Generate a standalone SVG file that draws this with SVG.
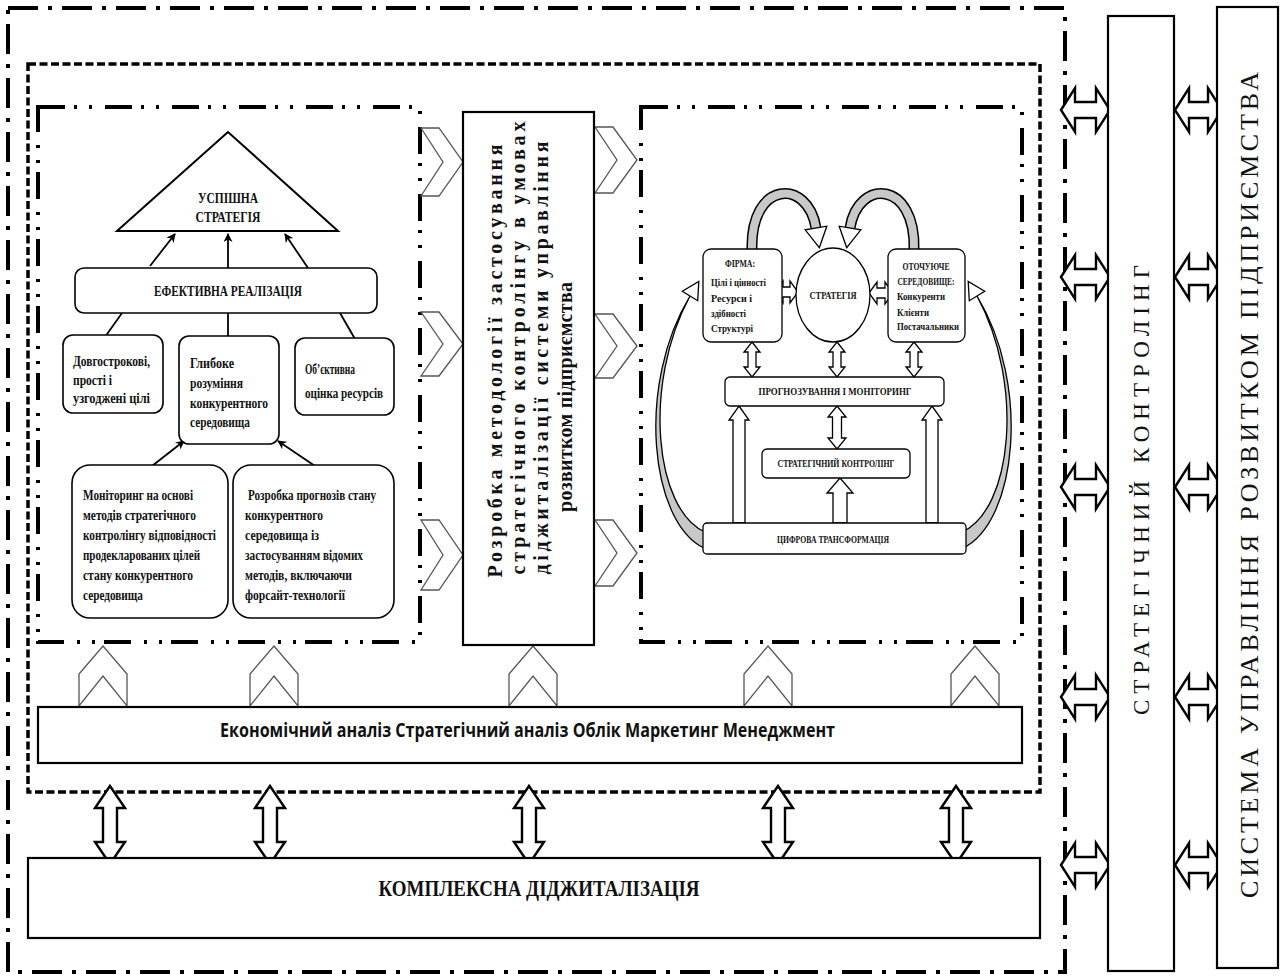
<svg xmlns="http://www.w3.org/2000/svg" width="1282" height="979" viewBox="0 0 1282 979">
<defs>
<style>
.b-outer{fill:none;stroke:#000;stroke-width:4;stroke-dasharray:30 10 4 10}
.b-dash{fill:none;stroke:#000;stroke-width:3.5;stroke-dasharray:8 3.5}
.b-ddot{fill:none;stroke:#000;stroke-width:4;stroke-dasharray:27 9 3 12 3 13}
.box{fill:#fff;stroke:#000;stroke-width:2.2}
.rbox{fill:#fff;stroke:#000;stroke-width:1.6}
.sbox{fill:#fff;stroke:#000;stroke-width:1.3}
.chev{fill:none;stroke:#555;stroke-width:1.3}
.dbl{fill:#fff;stroke:#000;stroke-width:2.4}
.dbls{fill:#fff;stroke:#000;stroke-width:1.3}
.ln{fill:none;stroke:#000;stroke-width:1.8}
.band{fill:none;stroke:#000;stroke-width:11}
.bandin{fill:none;stroke:#c8c8c8;stroke-width:8}
.cres{fill:#c8c8c8;stroke:#000;stroke-width:1.3}
.head{fill:#fff;stroke:#000;stroke-width:1.3}
.tb{font-family:"Liberation Serif","Times New Roman",serif;font-weight:bold;fill:#111}
.t14{font-size:14.5px}
.t10{font-size:10.5px}
.tr{font-family:"Liberation Serif","Times New Roman",serif;fill:#111}
.ts{font-family:"Open Sans","Liberation Sans",Arial,sans-serif;font-weight:bold;fill:#111}
</style>
<marker id="ah" viewBox="0 0 10 10" refX="9" refY="5" markerWidth="5" markerHeight="5" orient="auto"><path d="M0,0 L10,5 L0,10 L3,5 Z" fill="#000"/></marker>
</defs>
<rect width="1282" height="979" fill="#fff"/>

<g id="frame-outer"><rect class="b-outer" x="8" y="8" width="1057" height="964"/></g>
<g id="frame-analytics"><rect class="b-dash" x="28" y="64" width="1012" height="728"/></g>
<g id="panel-left"><rect class="b-ddot" x="38" y="107" width="382" height="535"/></g>
<g id="panel-right"><rect class="b-ddot" x="641" y="107" width="381" height="535"/></g>

<g id="connectors">
  <polygon class="chev" points="421,128 439,128 463,162 439,196 421,196 443,162"/>
  <polygon class="chev" points="421,312 439,312 463,344 439,376 421,376 443,344"/>
  <polygon class="chev" points="421,520 439,520 463,555 439,590 421,590 443,555"/>
  <polygon class="chev" points="595,127 613,127 637,160 613,193 595,193 617,160"/>
  <polygon class="chev" points="595,314 613,314 637,346 613,378 595,378 617,346"/>
  <polygon class="chev" points="595,520 613,520 637,553 613,586 595,586 617,553"/>
  <polygon class="chev" points="79,706 79,674 103,646 127,674 127,706 103,676"/>
  <polygon class="chev" points="250,706 250,674 274,646 298,674 298,706 274,676"/>
  <polygon class="chev" points="509,706 509,674 533,646 557,674 557,706 533,676"/>
  <polygon class="chev" points="744,706 744,674 768,646 792,674 792,706 768,676"/>
  <polygon class="chev" points="951,706 951,674 975,646 999,674 999,706 975,676"/>
  <path class="dbl" d="M110,786 L125,808 L117,808 L117,842 L125,842 L110,864 L95,842 L103,842 L103,808 L95,808 Z"/>
  <path class="dbl" d="M270,786 L285,808 L277,808 L277,842 L285,842 L270,864 L255,842 L263,842 L263,808 L255,808 Z"/>
  <path class="dbl" d="M529,786 L544,808 L536,808 L536,842 L544,842 L529,864 L514,842 L522,842 L522,808 L514,808 Z"/>
  <path class="dbl" d="M778,786 L793,808 L785,808 L785,842 L793,842 L778,864 L763,842 L771,842 L771,808 L763,808 Z"/>
  <path class="dbl" d="M956,786 L971,808 L963,808 L963,842 L971,842 L956,864 L941,842 L949,842 L949,808 L941,808 Z"/>
  <path class="dbl" d="M1061,110 L1075,88 L1075,102 L1096,102 L1096,88 L1110,110 L1096,132 L1096,118 L1075,118 L1075,132 Z"/>
  <path class="dbl" d="M1061,277 L1075,255 L1075,269 L1096,269 L1096,255 L1110,277 L1096,299 L1096,285 L1075,285 L1075,299 Z"/>
  <path class="dbl" d="M1061,487 L1075,465 L1075,479 L1096,479 L1096,465 L1110,487 L1096,509 L1096,495 L1075,495 L1075,509 Z"/>
  <path class="dbl" d="M1061,697 L1075,675 L1075,689 L1096,689 L1096,675 L1110,697 L1096,719 L1096,705 L1075,705 L1075,719 Z"/>
  <path class="dbl" d="M1061,865 L1075,843 L1075,857 L1096,857 L1096,843 L1110,865 L1096,887 L1096,873 L1075,873 L1075,887 Z"/>
  <path class="dbl" d="M1175,110 L1189,88 L1189,102 L1208,102 L1208,88 L1222,110 L1208,132 L1208,118 L1189,118 L1189,132 Z"/>
  <path class="dbl" d="M1175,277 L1189,255 L1189,269 L1208,269 L1208,255 L1222,277 L1208,299 L1208,285 L1189,285 L1189,299 Z"/>
  <path class="dbl" d="M1175,487 L1189,465 L1189,479 L1208,479 L1208,465 L1222,487 L1208,509 L1208,495 L1189,495 L1189,509 Z"/>
  <path class="dbl" d="M1175,697 L1189,675 L1189,689 L1208,689 L1208,675 L1222,697 L1208,719 L1208,705 L1189,705 L1189,719 Z"/>
  <path class="dbl" d="M1175,865 L1189,843 L1189,857 L1208,857 L1208,843 L1222,865 L1208,887 L1208,873 L1189,873 L1189,887 Z"/>
  <line class="ln" x1="150" y1="266" x2="175" y2="234" marker-end="url(#ah)"/>
  <line class="ln" x1="228" y1="268" x2="228" y2="234" marker-end="url(#ah)"/>
  <line class="ln" x1="308" y1="268" x2="285" y2="234" marker-end="url(#ah)"/>
  <line class="ln" x1="122" y1="313" x2="105" y2="337"/>
  <line class="ln" x1="228" y1="313" x2="228" y2="337"/>
  <line class="ln" x1="340" y1="313" x2="355" y2="339"/>
  <line class="ln" x1="152" y1="466" x2="184" y2="441" marker-end="url(#ah)"/>
  <line class="ln" x1="315" y1="466" x2="278" y2="441" marker-end="url(#ah)"/>
  <path class="band" d="M752,250 C750,180 808,178 816,228"/>
  <path class="bandin" d="M752,250 C750,180 808,178 816,228"/>
  <polygon class="head" points="819.3,247.7 826.8,226.2 805.2,229.8"/>
  <path class="band" d="M914,250 C916,180 858,178 850,228"/>
  <path class="bandin" d="M914,250 C916,180 858,178 850,228"/>
  <polygon class="head" points="846.7,247.7 839.2,226.2 860.8,229.8"/>
  <path class="cres" d="M704,548 C650,522 636,385 690,296 C642,385 655,510 705,532 Z"/>
  <polygon class="head" points="698.8,281.4 697.7,300.7 682.3,291.3"/>
  <path class="cres" d="M963,548 C1017,522 1031,385 977,296 C1025,385 1012,510 962,532 Z"/>
  <polygon class="head" points="968.2,281.4 969.3,300.7 984.7,291.3"/>
  <path class="dbls" d="M775,292 L783,281 L783,287 L790,287 L790,281 L798,292 L790,303 L790,297 L783,297 L783,303 Z"/>
  <path class="dbls" d="M869,293 L877,282 L877,288 L885,288 L885,282 L893,293 L885,304 L885,298 L877,298 L877,304 Z"/>
  <path class="dbls" d="M752,342 L760,352 L756,352 L756,367 L760,367 L752,377 L744,367 L748,367 L748,352 L744,352 Z"/>
  <path class="dbls" d="M837,342 L845,352 L841,352 L841,367 L845,367 L837,377 L829,367 L833,367 L833,352 L829,352 Z"/>
  <path class="dbls" d="M914,342 L922,352 L918,352 L918,367 L922,367 L914,377 L906,367 L910,367 L910,352 L906,352 Z"/>
  <path class="dbls" d="M837,406 L846,417 L841.5,417 L841.5,438 L846,438 L837,449 L828,438 L832.5,438 L832.5,417 L828,417 Z"/>
  <path class="dbls" d="M739,406 L749,420 L745,420 L745,523 L733,523 L733,420 L729,420 Z"/>
  <path class="dbls" d="M932,406 L942,420 L938,420 L938,523 L926,523 L926,420 L922,420 Z"/>
  <path class="dbls" d="M840,478 L853,493 L847,493 L847,523 L833,523 L833,493 L827,493 Z"/>
</g>

<g id="node-methodology">
  <rect class="box" x="463" y="112" width="131" height="533"/>
  <g class="tb" font-size="20" text-anchor="middle">
    <text transform="translate(502,361) rotate(-90)" textLength="433" lengthAdjust="spacing">Розробка методології застосування</text>
    <text transform="translate(525,348) rotate(-90)" textLength="453" lengthAdjust="spacing">стратегічного контролінгу  в умовах</text>
    <text transform="translate(548,358) rotate(-90)" textLength="433" lengthAdjust="spacing">діджиталізації  системи управління</text>
    <text transform="translate(572,397) rotate(-90)" textLength="230" lengthAdjust="spacing">розвитком підприємства</text>
  </g>
</g>

<g id="node-success">
  <polygon points="228,132 117,231 338,231" fill="#fff" stroke="#000" stroke-width="2"/>
  <text class="tb t14" x="228" y="203" text-anchor="middle" textLength="60" lengthAdjust="spacingAndGlyphs">УСПІШНА</text>
  <text class="tb t14" x="228" y="222" text-anchor="middle" textLength="65" lengthAdjust="spacingAndGlyphs">СТРАТЕГІЯ</text>
</g>
<g id="node-effective">
  <rect class="rbox" x="75" y="268" width="302" height="45" rx="9"/>
  <text class="tb t14" x="228" y="296" text-anchor="middle" textLength="148" lengthAdjust="spacingAndGlyphs">ЕФЕКТИВНА РЕАЛІЗАЦІЯ</text>
</g>
<g id="node-goals">
  <rect class="rbox" x="63" y="335" width="100" height="78" rx="10"/>
  <g class="tb t14">
    <text x="73" y="366" textLength="77" lengthAdjust="spacingAndGlyphs">Довгострокові,</text>
    <text x="73" y="385" textLength="39" lengthAdjust="spacingAndGlyphs">прості і</text>
    <text x="73" y="403" textLength="77" lengthAdjust="spacingAndGlyphs">узгоджені цілі</text>
  </g>
</g>
<g id="node-understanding">
  <rect class="rbox" x="179" y="336" width="100" height="108" rx="10"/>
  <g class="tb t14">
    <text x="190" y="368" textLength="44" lengthAdjust="spacingAndGlyphs">Глибоке</text>
    <text x="190" y="388" textLength="53" lengthAdjust="spacingAndGlyphs">розуміння</text>
    <text x="190" y="408" textLength="78" lengthAdjust="spacingAndGlyphs">конкурентного</text>
    <text x="190" y="427" textLength="60" lengthAdjust="spacingAndGlyphs">середовища</text>
  </g>
</g>
<g id="node-resources">
  <rect class="rbox" x="295" y="338" width="99" height="77" rx="10"/>
  <g class="tb t14">
    <text x="305" y="374" textLength="50" lengthAdjust="spacingAndGlyphs">Об’єктивна</text>
    <text x="305" y="398" textLength="78" lengthAdjust="spacingAndGlyphs">оцінка ресурсів</text>
  </g>
</g>
<g id="node-monitoring">
  <rect class="rbox" x="72" y="465" width="156" height="153" rx="18"/>
  <g class="tb t14">
    <text x="83" y="500" textLength="110" lengthAdjust="spacingAndGlyphs">Моніторинг на основі</text>
    <text x="83" y="520" textLength="113" lengthAdjust="spacingAndGlyphs">методів стратегічного</text>
    <text x="83" y="540" textLength="133" lengthAdjust="spacingAndGlyphs">контролінгу відповідності</text>
    <text x="83" y="560" textLength="117" lengthAdjust="spacingAndGlyphs">продекларованих цілей</text>
    <text x="83" y="580" textLength="110" lengthAdjust="spacingAndGlyphs">стану конкурентного</text>
    <text x="83" y="600" textLength="60" lengthAdjust="spacingAndGlyphs">середовища</text>
  </g>
</g>
<g id="node-forecast">
  <rect class="rbox" x="233" y="465" width="161" height="153" rx="18"/>
  <g class="tb t14">
    <text x="248" y="500" textLength="128" lengthAdjust="spacingAndGlyphs">Розробка прогнозів стану</text>
    <text x="245" y="520" textLength="78" lengthAdjust="spacingAndGlyphs">конкурентного</text>
    <text x="245" y="540" textLength="74" lengthAdjust="spacingAndGlyphs">середовища із</text>
    <text x="245" y="560" textLength="118" lengthAdjust="spacingAndGlyphs">застосуванням відомих</text>
    <text x="245" y="580" textLength="107" lengthAdjust="spacingAndGlyphs">методів, включаючи</text>
    <text x="245" y="600" textLength="100" lengthAdjust="spacingAndGlyphs">форсайт-технології</text>
  </g>
</g>

<g id="node-firm">
  <rect class="sbox" x="703" y="249" width="79" height="93" rx="8"/>
  <g class="tb t10">
    <text x="740" y="267" text-anchor="middle" textLength="30" lengthAdjust="spacingAndGlyphs">ФІРМА:</text>
    <text x="711" y="286" textLength="55" lengthAdjust="spacingAndGlyphs">Цілі і цінності</text>
    <text x="711" y="302" textLength="41" lengthAdjust="spacingAndGlyphs">Ресурси і</text>
    <text x="711" y="317" textLength="35" lengthAdjust="spacingAndGlyphs">здібності</text>
    <text x="711" y="332" textLength="42" lengthAdjust="spacingAndGlyphs">Структурі</text>
  </g>
</g>
<g id="node-strategy">
  <ellipse cx="833" cy="295" rx="37" ry="47" fill="#fff" stroke="#000" stroke-width="1.3"/>
  <text class="tb t10" x="833" y="299" text-anchor="middle" textLength="47" lengthAdjust="spacingAndGlyphs">СТРАТЕГІЯ</text>
</g>
<g id="node-environment">
  <rect class="sbox" x="888" y="249" width="77" height="93" rx="8"/>
  <g class="tb t10">
    <text x="926" y="270" text-anchor="middle" textLength="47" lengthAdjust="spacingAndGlyphs">ОТОЧУЮЧЕ</text>
    <text x="926" y="285" text-anchor="middle" textLength="57" lengthAdjust="spacingAndGlyphs">СЕРЕДОВИЩЕ:</text>
    <text x="897" y="300" textLength="48" lengthAdjust="spacingAndGlyphs">Конкуренти</text>
    <text x="897" y="316" textLength="32" lengthAdjust="spacingAndGlyphs">Клієнти</text>
    <text x="897" y="330" textLength="62" lengthAdjust="spacingAndGlyphs">Постачальники</text>
  </g>
</g>
<g id="node-forecasting">
  <rect class="sbox" x="725" y="377" width="219" height="29" rx="5"/>
  <text class="tb t10" x="835" y="395" text-anchor="middle" textLength="153" lengthAdjust="spacingAndGlyphs">ПРОГНОЗУВАННЯ І МОНІТОРИНГ</text>
</g>
<g id="node-controlling">
  <rect class="sbox" x="762" y="449" width="148" height="29" rx="5"/>
  <text class="tb t10" x="836" y="467" text-anchor="middle" textLength="117" lengthAdjust="spacingAndGlyphs">СТРАТЕГІЧНИЙ КОНТРОЛІНГ</text>
</g>
<g id="node-digital">
  <rect class="sbox" x="703" y="523" width="263" height="31" rx="4"/>
  <text class="tb t10" x="833" y="543" text-anchor="middle" textLength="112" lengthAdjust="spacingAndGlyphs">ЦИФРОВА ТРАНСФОРМАЦІЯ</text>
</g>

<g id="node-analysis">
  <rect class="box" x="38" y="707" width="984" height="56"/>
  <text class="ts" x="220" y="737" font-size="20" textLength="615" lengthAdjust="spacingAndGlyphs">Економічний аналіз Стратегічний аналіз  Облік Маркетинг  Менеджмент</text>
</g>

<g id="node-complex">
  <rect class="box" x="28" y="858" width="1012" height="80"/>
  <text class="tb" x="539" y="896" font-size="24" text-anchor="middle" textLength="321" lengthAdjust="spacingAndGlyphs">КОМПЛЕКСНА ДІДЖИТАЛІЗАЦІЯ</text>
</g>

<g id="node-strat-control">
  <rect class="box" x="1108" y="16" width="66" height="955" stroke-width="2"/>
  <text class="tr" transform="translate(1149,490) rotate(-90)" font-size="23" text-anchor="middle" textLength="450" lengthAdjust="spacing">СТРАТЕГІЧНИЙ КОНТРОЛІНГ</text>
</g>
<g id="node-system">
  <rect class="box" x="1217" y="7" width="61" height="961" stroke-width="2"/>
  <text class="tr" transform="translate(1258,485) rotate(-90)" font-size="26" text-anchor="middle" textLength="826" lengthAdjust="spacing">СИСТЕМА УПРАВЛІННЯ РОЗВИТКОМ ПІДПРИЄМСТВА</text>
</g>
</svg>
